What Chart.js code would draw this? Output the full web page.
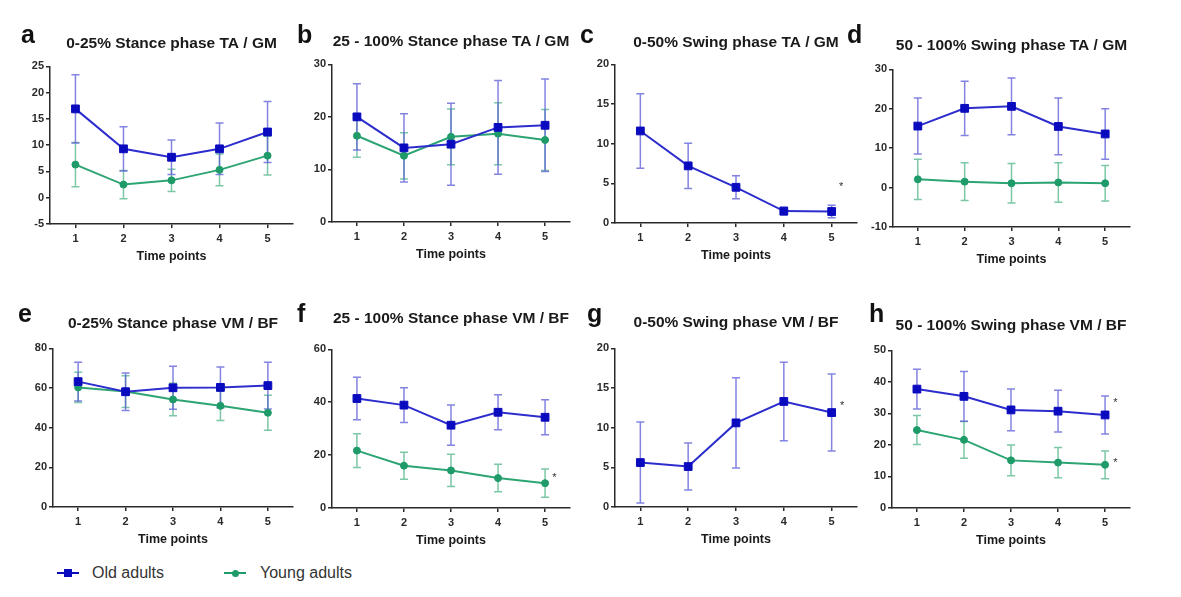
<!DOCTYPE html>
<html>
<head>
<meta charset="utf-8">
<title>Old vs young adults - co-activation over time points</title>
<script src="https://cdn.jsdelivr.net/npm/chart.js"></script>
<style>
  body { margin: 0; background: #fff; font-family: "Liberation Sans", Arial, sans-serif; }
  #page { position: relative; width: 1181px; height: 597px; overflow: hidden; background: #fff; }
  .panel { position: absolute; }
  .letter { position: absolute; font-weight: bold; font-size: 25px; line-height: 25px; color: #111; }
  .leg-mark { position: absolute; height: 2px; }
  .leg-dot { position: absolute; }
  .leg-text { position: absolute; font-size: 16px; line-height: 18px; color: #333; }
</style>
</head>
<body>
<div id="page"></div>

<script>
  // x values shared by every panel
  const timePoints = [1, 2, 3, 4, 5];

  // a: 0-25% stance TA/GM
  const aOldMean = [16.9, 9.3, 7.7, 9.3, 12.5];
  const aOldSd = [6.5, 4.2, 3.3, 4.9, 5.8];
  const aYoungMean = [6.3, 2.5, 3.3, 5.3, 8.0];
  const aYoungSd = [4.2, 2.7, 2.1, 3.0, 3.7];

  // b: 25-100% stance TA/GM
  const bOldMean = [20.0, 14.1, 14.8, 18.0, 18.4];
  const bOldSd = [6.3, 6.5, 7.8, 8.9, 8.8];
  const bYoungMean = [16.4, 12.6, 16.2, 16.8, 15.6];
  const bYoungSd = [4.1, 4.4, 5.3, 5.9, 5.8];

  // c: 0-50% swing TA/GM (old only)
  const cOldMean = [11.6, 7.2, 4.5, 1.5, 1.45];
  const cOldSd = [4.7, 2.85, 1.45, 0.5, 0.8];

  // d: 50-100% swing TA/GM
  const dOldMean = [15.6, 20.1, 20.6, 15.5, 13.6];
  const dOldSd = [7.1, 6.9, 7.2, 7.2, 6.4];
  const dYoungMean = [2.1, 1.5, 1.1, 1.3, 1.1];
  const dYoungSd = [5.1, 4.8, 5.0, 5.0, 4.5];

  // e: 0-25% stance VM/BF
  const eOldMean = [63.2, 58.1, 60.1, 60.3, 61.2];
  const eOldSd = [9.8, 9.4, 10.8, 10.3, 11.8];
  const eYoungMean = [60.3, 58.2, 54.2, 51.0, 47.5];
  const eYoungSd = [7.6, 8.0, 8.2, 7.4, 8.8];

  // f: 25-100% stance VM/BF
  const fOldMean = [41.4, 38.9, 31.3, 36.2, 34.3];
  const fOldSd = [8.0, 6.6, 7.6, 6.6, 6.6];
  const fYoungMean = [21.7, 16.0, 14.2, 11.3, 9.4];
  const fYoungSd = [6.4, 5.1, 6.1, 5.2, 5.3];

  // g: 0-50% swing VM/BF (old only)
  const gOldMean = [5.6, 5.1, 10.6, 13.3, 11.9];
  const gOldSd = [5.1, 2.95, 5.7, 4.95, 4.85];

  // h: 50-100% swing VM/BF
  const hOldMean = [37.7, 35.4, 31.1, 30.7, 29.5];
  const hOldSd = [6.3, 7.9, 6.6, 6.6, 6.0];
  const hYoungMean = [24.7, 21.6, 15.1, 14.4, 13.7];
  const hYoungSd = [4.6, 5.8, 4.9, 4.8, 4.4];

  // panel letters, titles and y axis ranges
  const letters = ['a', 'b', 'c', 'd', 'e', 'f', 'g', 'h'];
  const titles = [
    '0-25% Stance phase TA / GM', '25 - 100% Stance phase TA / GM',
    '0-50% Swing phase TA / GM', '50 - 100% Swing phase TA / GM',
    '0-25% Stance phase VM / BF', '25 - 100% Stance phase VM / BF',
    '0-50% Swing phase VM / BF', '50 - 100% Swing phase VM / BF'
  ];
  const yMin = [-5, 0, 0, -10, 0, 0, 0, 0];
  const yMax = [25, 30, 20, 30, 80, 60, 20, 50];
  const yStep = [5, 10, 5, 10, 20, 20, 5, 10];

  const oldMeans = [aOldMean, bOldMean, cOldMean, dOldMean, eOldMean, fOldMean, gOldMean, hOldMean];
  const oldSds = [aOldSd, bOldSd, cOldSd, dOldSd, eOldSd, fOldSd, gOldSd, hOldSd];
  const youngMeans = [aYoungMean, bYoungMean, null, dYoungMean, eYoungMean, fYoungMean, null, hYoungMean];
  const youngSds = [aYoungSd, bYoungSd, null, dYoungSd, eYoungSd, fYoungSd, null, hYoungSd];

  // significance stars (panel index, x value, y value)
  const starPanel = [2, 5, 6, 7, 7];
  const starX = [5.2, 5.2, 5.22, 5.22, 5.22];
  const starY = [5.0, 12.8, 13.2, 34.7, 15.5];

  // where each plot box sits on the page (left, right, top, bottom, title centre, letter pos)
  const boxes = [
    { L: 50,  R: 293,  T: 66,  B: 224, ty: 43,  lx: 21,  ly: 22 },
    { L: 332, R: 570,  T: 64,  B: 222, ty: 41,  lx: 297, ly: 22 },
    { L: 615, R: 857,  T: 64,  B: 223, ty: 42,  lx: 580, ly: 22 },
    { L: 893, R: 1130, T: 69,  B: 227, ty: 45,  lx: 847, ly: 22 },
    { L: 53,  R: 293,  T: 348, B: 507, ty: 323, lx: 18,  ly: 301 },
    { L: 332, R: 570,  T: 349, B: 508, ty: 318, lx: 297, ly: 301 },
    { L: 615, R: 857,  T: 348, B: 507, ty: 322, lx: 587, ly: 301 },
    { L: 892, R: 1130, T: 350, B: 508, ty: 325, lx: 869, ly: 301 }
  ];

  const OLD_LINE = 'rgb(45,45,205)', OLD_PT = 'rgb(10,10,190)', OLD_ERR = 'rgba(90,90,215,0.75)';
  const YOUNG_LINE = 'rgb(45,165,115)', YOUNG_PT = 'rgb(30,155,105)', YOUNG_ERR = 'rgba(80,180,135,0.75)';
  const AXIS = '#2a2a2a';
  const FONT = '"Liberation Sans", Arial, sans-serif';

  const yW = 42, xH = 42, padR = 8, titleSize = 15.5, titleLH = titleSize * 1.2;

  // vertical SD bars with caps, drawn under the lines
  const errorBars = {
    id: 'errorBars',
    beforeDatasetsDraw(chart) {
      const ctx = chart.ctx, xs = chart.scales.x, ys = chart.scales.y;
      for (let d = chart.data.datasets.length - 1; d >= 0; d--) {
        const ds = chart.data.datasets[d];
        ctx.save();
        ctx.strokeStyle = ds.errColor;
        ctx.lineWidth = 1.5;
        ds.data.forEach((pt, i) => {
          const px = xs.getPixelForValue(pt.x);
          const top = ys.getPixelForValue(pt.y + ds.sd[i]);
          const bot = ys.getPixelForValue(pt.y - ds.sd[i]);
          ctx.beginPath();
          ctx.moveTo(px, top); ctx.lineTo(px, bot);
          ctx.moveTo(px - 4, top); ctx.lineTo(px + 4, top);
          ctx.moveTo(px - 4, bot); ctx.lineTo(px + 4, bot);
          ctx.stroke();
        });
        ctx.restore();
      }
    }
  };

  // asterisks next to the last time point
  const stars = {
    id: 'stars',
    afterDatasetsDraw(chart, args, opts) {
      const ctx = chart.ctx;
      ctx.save();
      ctx.fillStyle = '#333';
      ctx.font = '11px ' + FONT;
      ctx.textAlign = 'center';
      starPanel.forEach((p, k) => {
        if (p !== opts.panel) return;
        const px = chart.scales.x.getPixelForValue(starX[k]);
        const py = chart.scales.y.getPixelForValue(starY[k]);
        ctx.fillText('*', px, py + 7);
      });
      ctx.restore();
    }
  };

  const page = document.getElementById('page');

  function series(label, means, sds, line, pt, err, style, radius) {
    return {
      label: label,
      data: means.map((v, i) => ({ x: timePoints[i], y: v })),
      sd: sds,
      errColor: err,
      borderColor: line,
      borderWidth: 2,
      backgroundColor: pt,
      pointBackgroundColor: pt,
      pointBorderColor: pt,
      pointBorderWidth: 1,
      pointStyle: style,
      pointRadius: radius,
      tension: 0,
      fill: false
    };
  }

  boxes.forEach((b, p) => {
    const left = b.L - yW;
    const top = b.ty - titleLH / 2;
    const w = b.R + padR - left;
    const h = b.B + xH - top;
    const padBottomTitle = b.T - b.ty - titleLH / 2;

    const div = document.createElement('div');
    div.className = 'panel';
    div.style.left = left + 'px';
    div.style.top = top + 'px';
    div.style.width = w + 'px';
    div.style.height = h + 'px';
    const cv = document.createElement('canvas');
    cv.width = w; cv.height = h;
    cv.style.width = w + 'px'; cv.style.height = h + 'px';
    div.appendChild(cv);
    page.appendChild(div);

    const lt = document.createElement('div');
    lt.className = 'letter';
    lt.style.left = b.lx + 'px';
    lt.style.top = b.ly + 'px';
    lt.textContent = letters[p];
    page.appendChild(lt);

    const datasets = [series('Old adults', oldMeans[p], oldSds[p], OLD_LINE, OLD_PT, OLD_ERR, 'rect', 5.5)];
    if (youngMeans[p]) {
      datasets.push(series('Young adults', youngMeans[p], youngSds[p], YOUNG_LINE, YOUNG_PT, YOUNG_ERR, 'circle', 3.5));
    }

    new Chart(cv, {
      type: 'line',
      data: { datasets: datasets },
      plugins: [errorBars, stars],
      options: {
        responsive: false,
        animation: false,
        devicePixelRatio: 1,
        layout: { padding: { left: 0, right: padR, top: 0, bottom: 0 } },
        plugins: {
          legend: { display: false },
          tooltip: { enabled: false },
          stars: { panel: p },
          title: {
            display: true,
            text: titles[p],
            fullSize: false,
            color: '#1a1a1a',
            font: { family: FONT, size: titleSize, weight: 'bold', lineHeight: 1.2 },
            padding: { top: 0, bottom: padBottomTitle }
          }
        },
        scales: {
          x: {
            type: 'linear',
            min: 0.47,
            max: 5.53,
            afterBuildTicks: s => { s.ticks = timePoints.map(v => ({ value: v })); },
            afterFit: s => { s.height = xH; },
            grid: { display: true, drawOnChartArea: false, drawTicks: true, tickLength: 4, color: AXIS, lineWidth: 1.5 },
            border: { display: true, color: AXIS, width: 1.5 },
            ticks: { color: '#2a2a2a', padding: 4, font: { family: FONT, size: 11, weight: 'bold' } },
            title: {
              display: true,
              text: 'Time points',
              color: '#1a1a1a',
              font: { family: FONT, size: 12.5, weight: 'bold', lineHeight: 1.2 },
              padding: { top: 0, bottom: 1.5 }
            }
          },
          y: {
            min: yMin[p],
            max: yMax[p],
            afterFit: s => { s.width = yW; },
            grid: { display: true, drawOnChartArea: false, drawTicks: true, tickLength: 4, color: AXIS, lineWidth: 1.5 },
            border: { display: true, color: AXIS, width: 1.5 },
            ticks: { stepSize: yStep[p], color: '#2a2a2a', padding: 2, font: { family: FONT, size: 11, weight: 'bold' } }
          }
        }
      }
    });
  });

  // legend along the bottom
  function legendItem(x, color, round, text, textX) {
    const line = document.createElement('div');
    line.className = 'leg-mark';
    line.style.left = x + 'px'; line.style.top = '572px'; line.style.width = '22px';
    line.style.background = color;
    page.appendChild(line);
    const dot = document.createElement('div');
    dot.className = 'leg-dot';
    const s = round ? 7 : 8;
    dot.style.left = (x + 11 - s / 2) + 'px'; dot.style.top = (573 - s / 2) + 'px';
    dot.style.width = s + 'px'; dot.style.height = s + 'px';
    dot.style.background = color;
    if (round) dot.style.borderRadius = '50%';
    page.appendChild(dot);
    const t = document.createElement('div');
    t.className = 'leg-text';
    t.style.left = textX + 'px'; t.style.top = '564px';
    t.textContent = text;
    page.appendChild(t);
  }
  legendItem(57, OLD_PT, false, 'Old adults', 92);
  legendItem(224, YOUNG_PT, true, 'Young adults', 260);
</script>
</body>
</html>
